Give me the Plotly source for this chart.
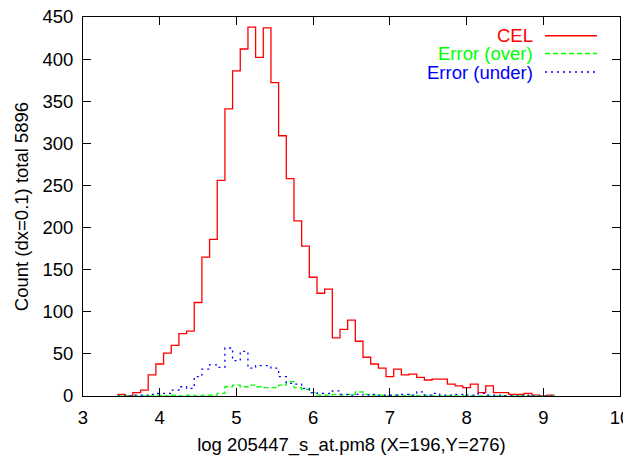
import plotly.graph_objects as go

# bin centers (dx = 0.1)
bin_centers = [3.5, 3.6, 3.7, 3.8, 3.9, 4.0, 4.1, 4.2, 4.3, 4.4, 4.5, 4.6, 4.7, 4.8, 4.9,
               5.0, 5.1, 5.2, 5.3, 5.4, 5.5, 5.6, 5.7, 5.8, 5.9, 6.0, 6.1, 6.2, 6.3, 6.4,
               6.5, 6.6, 6.7, 6.8, 6.9, 7.0, 7.1, 7.2, 7.3, 7.4, 7.5, 7.6, 7.7, 7.8, 7.9,
               8.0, 8.1, 8.2, 8.3, 8.4, 8.5, 8.6, 8.7, 8.8, 8.9, 9.0, 9.1]

cel = [2, 0, 4, 7, 25, 38, 51, 60, 74, 77, 111, 165, 186, 256, 341,
       386, 412, 438, 402, 437, 372, 309, 258, 208, 178, 141, 122, 127, 69, 79,
       90, 65, 46, 38, 33, 23, 32, 25, 26, 22, 19, 20, 20, 14, 12,
       10, 14, 4, 12, 4, 4, 2, 2, 3, 1, 0, 1]

err_over = [0, 0, 0, 0, 0, 1, 0, 1, 0, 1, 0, 1, 1, 3, 11,
            13, 11, 13, 11, 10, 10, 13, 17, 10, 8, 4, 1, 1, 2, 1,
            2, 5, 2, 1, 1, 0, 1, 0, 1, 0, 1, 0, 0, 0, 0,
            0, 0, 0, 0, 0, 0, 0, 0, 0, 0, 0, 0]

err_under = [0, 0, 1, 1, 2, 3, 3, 7, 11, 9, 23, 32, 37, 34, 57,
             42, 53, 33, 36, 36, 33, 23, 15, 14, 9, 4, 3, 3, 6, 2,
             1, 2, 1, 2, 1, 1, 1, 2, 1, 5, 1, 3, 1, 1, 2,
             1, 1, 3, 1, 1, 0, 0, 0, 1, 0, 0, 0]

x_ticks = [3, 4, 5, 6, 7, 8, 9, 10]
y_ticks = [0, 50, 100, 150, 200, 250, 300, 350, 400, 450]

series_names = ["CEL", "Error (over)", "Error (under)"]
series_colors = ["#ff0000", "#00ff00", "#0000ff"]
series_dash = ["solid", "5px,3px", "2px,4px"]

# page has an 8px body margin; size the figure so the plot area lands in place
OFF = 8
W, H = 631 - OFF, 456 - OFF
L, R, T, B = 75, 11, 9, 60
FONT = "Liberation Sans, Arial, Helvetica, sans-serif"
FS = 18.5

half = 0.05


def steps(vals):
    xs = [round(c - half, 3) for c in bin_centers] + [round(bin_centers[-1] + half, 3)]
    ys = list(vals) + [vals[-1]]
    return xs, ys


fig = go.Figure()
for name, vals, col, dash in zip(series_names, [cel, err_over, err_under], series_colors, series_dash):
    xs, ys = steps(vals)
    fig.add_trace(go.Scatter(x=xs, y=ys, mode="lines", name=name, line_shape="hv",
                             line=dict(color=col, width=1.3, dash=dash), showlegend=False))

# manual gnuplot-style legend (text right-aligned, sample to the right)
pw = W - L - R
ph = H - T - B


def px(xp):
    return (xp - OFF - L) / pw


def py(yp):
    return (H - B - (yp - OFF)) / ph


legend_rows = [35.7, 53.5, 72.0]
for name, col, dash, yrow in zip(series_names, series_colors, series_dash, legend_rows):
    fig.add_annotation(x=px(534), y=py(yrow), xref="paper", yref="paper", text=name,
                       showarrow=False, xanchor="right", yanchor="middle", borderpad=0,
                       font=dict(color=col, size=FS, family=FONT))
    fig.add_shape(type="line", xref="paper", yref="paper", x0=px(545), x1=px(597),
                  y0=py(yrow), y1=py(yrow), line=dict(color=col, width=1.4, dash=dash))

axis_common = dict(showgrid=False, zeroline=False, showline=True, linecolor="black",
                   linewidth=1, mirror="ticks", ticks="inside", ticklen=8,
                   tickcolor="black", tickwidth=1, automargin=False,
                   ticklabelstandoff=5, ticklabeloverflow="allow",
                   tickfont=dict(size=FS, family=FONT, color="black"))

fig.update_layout(
    width=W, height=H,
    margin=dict(l=L, r=R, t=T, b=B, autoexpand=False),
    paper_bgcolor="white", plot_bgcolor="white",
    font=dict(family=FONT, size=FS, color="black"),
    xaxis=dict(range=[3, 10], tickvals=x_ticks, ticktext=[str(v) for v in x_ticks],
               title=dict(text="log 205447_s_at.pm8 (X=196,Y=276)", font=dict(size=FS, family=FONT),
                          standoff=10),
               **axis_common),
    yaxis=dict(range=[0, 450], tickvals=y_ticks, ticktext=[str(v) for v in y_ticks],
               title=dict(text="Count (dx=0.1) total 5896", font=dict(size=FS, family=FONT),
                          standoff=8),
               **axis_common),
)

fig.write_html("out.html")
